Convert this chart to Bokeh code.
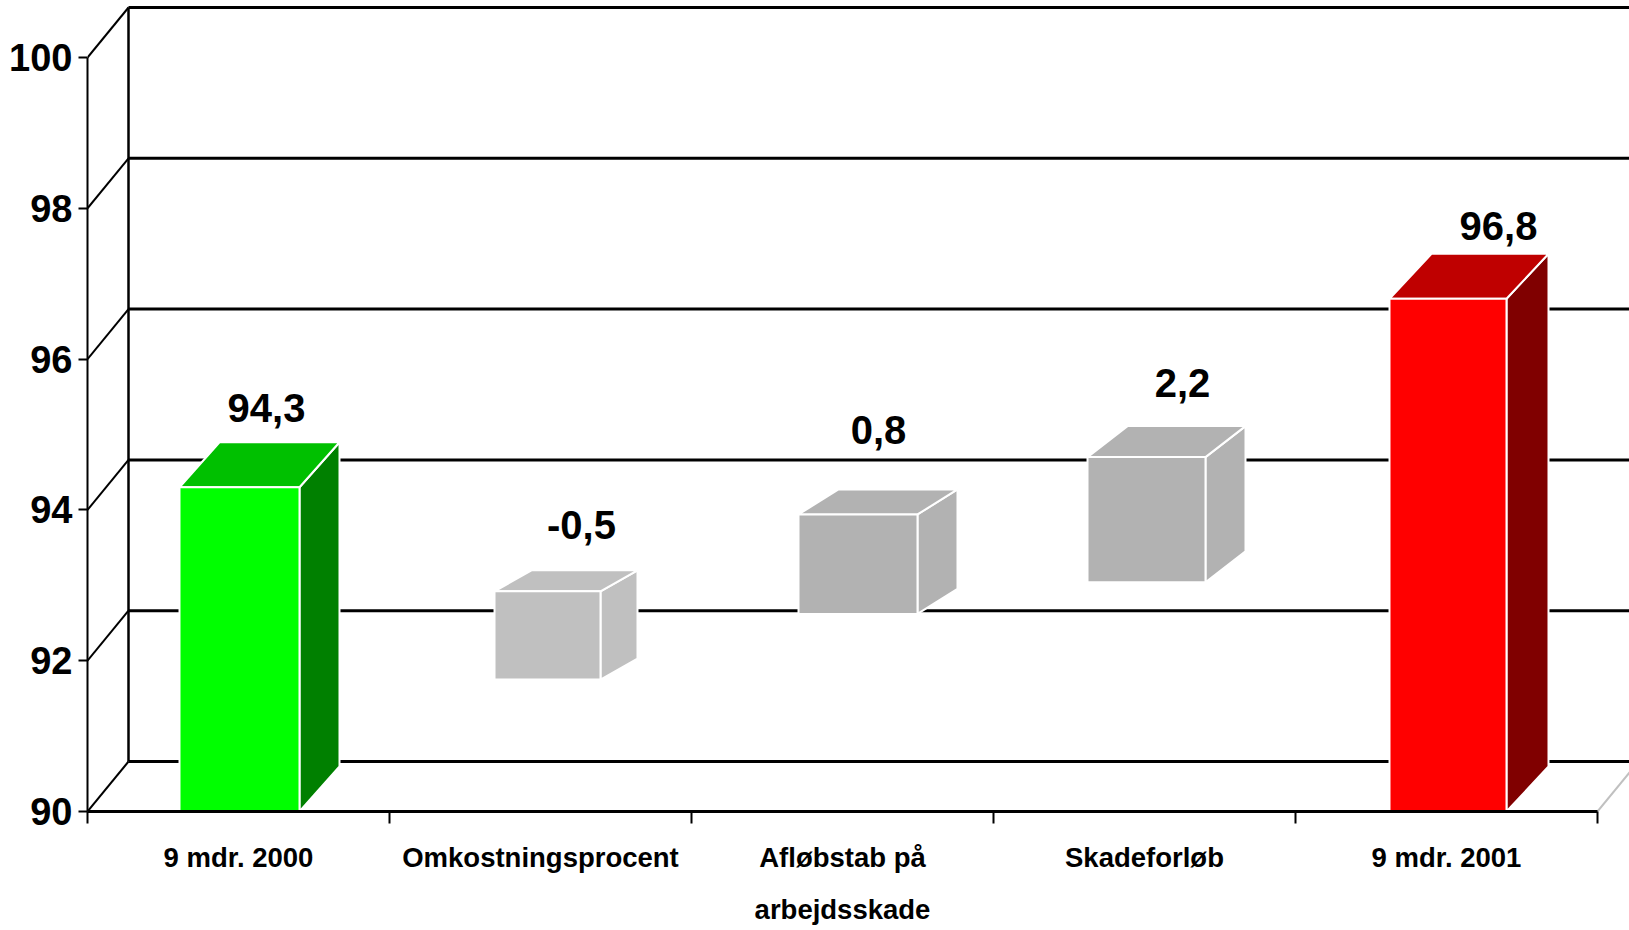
from bokeh.plotting import figure
from bokeh.models import Range1d, FixedTicker, ColumnDataSource
from bokeh.core.properties import value
from bokeh.embed import file_html
from bokeh.resources import INLINE

# ---------------- data ----------------
categories = ["9 mdr. 2000", "Omkostningsprocent", "Afløbstab på\narbejdsskade",
              "Skadeforløb", "9 mdr. 2001"]
bar_low = [90.0, 91.75, 92.62, 93.04, 90.0]
bar_high = [94.3, 92.92, 93.94, 94.70, 96.8]
value_labels = ["94,3", "-0,5", "0,8", "2,2", "96,8"]
y_ticks = [90, 92, 94, 96, 98, 100]
y_tick_labels = ["90", "92", "94", "96", "98", "100"]

# ---------------- styles ----------------
face_front = ["#00FF00", "#C0C0C0", "#B2B2B2", "#B2B2B2", "#FF0000"]
face_top = ["#00C000", "#C0C0C0", "#B2B2B2", "#B2B2B2", "#BF0000"]
face_side = ["#008000", "#C0C0C0", "#B2B2B2", "#B2B2B2", "#800000"]
bar_shift_px = [1, 7, 15.5, 2, 1.5]
bar_width_px = [120, 106, 119, 118, 117]
depth_dx_px = [40, 37, 40, 40, 42]
depth_dy_px = [45, 21, 25, 31, 45]
label_dx_px = [28, 41, 36, 38, 52]
label_dy_px = [-79, -66, -84, -74, -73]

PX_X = 302.0    # px per category
PX_Y = 75.4     # px per value unit
W, H = 1629, 930
LEFT, BOTTOM = 87, 119
frame_w = W - LEFT
frame_h = H - BOTTOM
wall_dx = 41 / PX_X
wall_dy = 50 / PX_Y

FONT = "Liberation Sans"

p = figure(width=W, height=H, output_backend="svg", toolbar_location=None,
           x_range=Range1d(0, frame_w / PX_X),
           y_range=Range1d(90, 90 + frame_h / PX_Y),
           min_border_left=LEFT, min_border_right=0, min_border_top=0,
           min_border_bottom=BOTTOM)
p.outline_line_color = None
p.xgrid.visible = False
p.ygrid.visible = False
p.background_fill_color = "white"
p.border_fill_color = "white"

x_end = frame_w / PX_X + 1

# back wall gridlines
p.segment(x0=[wall_dx] * len(y_ticks), y0=[v + wall_dy for v in y_ticks],
          x1=[x_end] * len(y_ticks), y1=[v + wall_dy for v in y_ticks],
          line_color="black", line_width=3)
# left wall diagonals
p.segment(x0=[0] * len(y_ticks), y0=y_ticks,
          x1=[wall_dx] * len(y_ticks), y1=[v + wall_dy for v in y_ticks],
          line_color="black", line_width=2)
# back wall left edge
p.segment(x0=[wall_dx], y0=[y_ticks[0] + wall_dy], x1=[wall_dx], y1=[y_ticks[-1] + wall_dy],
          line_color="black", line_width=2.5)
# floor right edge
n = len(categories)
p.segment(x0=[n], y0=[y_ticks[0]], x1=[n + wall_dx], y1=[y_ticks[0] + wall_dy],
          line_color="#C0C0C0", line_width=2)

# bars
for i in range(n):
    cx = i + 0.5 + bar_shift_px[i] / PX_X
    hw = bar_width_px[i] / 2 / PX_X
    dx = depth_dx_px[i] / PX_X
    dy = depth_dy_px[i] / PX_Y
    lo, hi = bar_low[i], bar_high[i]
    xs = [
        [cx + hw, cx + hw + dx, cx + hw + dx, cx + hw],
        [cx - hw, cx + hw, cx + hw + dx, cx - hw + dx],
        [cx - hw, cx + hw, cx + hw, cx - hw],
    ]
    ys = [
        [lo, lo + dy, hi + dy, hi],
        [hi, hi, hi + dy, hi + dy],
        [lo, lo, hi, hi],
    ]
    p.patches(xs=xs, ys=ys, fill_color=[face_side[i], face_top[i], face_front[i]],
              line_color="white", line_width=2)

# value labels
src = ColumnDataSource(dict(
    x=[i + 0.5 for i in range(n)], y=bar_high, t=value_labels,
    xo=label_dx_px, yo=label_dy_px))
p.text(x="x", y="y", text="t", x_offset="xo", y_offset="yo", source=src,
       text_font=value(FONT), text_font_style="bold",
       text_font_size="40px", text_align="center", text_baseline="middle",
       text_color="black")

# y axis (front)
ya = p.yaxis[0]
ya.ticker = FixedTicker(ticks=y_ticks)
ya.major_label_overrides = {v: s for v, s in zip(y_ticks, y_tick_labels)}
ya.bounds = (y_ticks[0], y_ticks[-1])
ya.minor_tick_line_color = None
ya.major_tick_out = 9
ya.major_tick_in = 0
ya.major_tick_line_width = 2
ya.axis_line_width = 2
ya.major_label_standoff = 6
ya.major_label_text_font = FONT
ya.major_label_text_font_style = "bold"
ya.major_label_text_font_size = "38px"
ya.major_label_text_color = "black"

# x axis (front)
xa = p.xaxis[0]
xa.ticker = FixedTicker(ticks=[i + 0.5 for i in range(n)],
                        minor_ticks=list(range(n + 1)))
xa.major_label_overrides = {i + 0.5: c for i, c in enumerate(categories)}
xa.bounds = (0, n)
xa.major_tick_line_color = None
xa.minor_tick_out = 12
xa.minor_tick_in = 0
xa.minor_tick_line_width = 2
xa.axis_line_width = 3
xa.major_label_standoff = 18
xa.major_label_text_font = FONT
xa.major_label_text_font_style = "bold"
xa.major_label_text_font_size = "27.5px"
xa.major_label_text_line_height = 1.68
xa.major_label_text_color = "black"

open("out.html", "w").write(file_html(p, INLINE))
